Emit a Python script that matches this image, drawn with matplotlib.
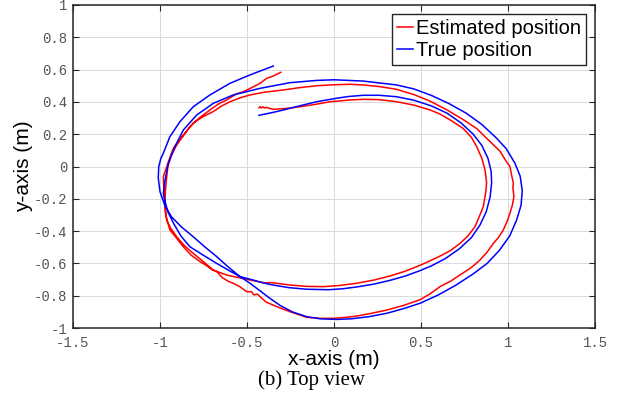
import matplotlib
matplotlib.use("Agg")
import matplotlib.pyplot as plt

# TRAJECTORY DATA (metres)
# ========================================================
true_x = [-0.431, -0.350, -0.291, -0.200, -0.100, 0.000, 0.080, 0.168, 0.260, 0.360,
          0.460, 0.560, 0.650, 0.730, 0.800, 0.850, 0.885, 0.903, 0.906, 0.897,
          0.875, 0.840, 0.790, 0.720, 0.640, 0.560, 0.494, 0.410, 0.322, 0.230,
          0.130, 0.050, -0.030, -0.157, -0.260, -0.349, -0.410, -0.464, -0.540, -0.610,
          -0.674, -0.750, -0.828, -0.880, -0.923, -0.955, -0.975,
          -0.981, -0.971, -0.952, -0.914, -0.866, -0.789, -0.694, -0.579, -0.425, -0.253, -0.100,
          0.000, 0.168, 0.360, 0.460, 0.560, 0.660, 0.760, 0.850, 0.930, 0.990,
          1.040, 1.070, 1.082, 1.075, 1.050, 1.010, 0.950, 0.880, 0.800, 0.700,
          0.600, 0.494, 0.400, 0.303, 0.200, 0.100, 0.015, -0.080, -0.157, -0.240,
          -0.310, -0.370, -0.425, -0.480, -0.540, -0.610, -0.674, -0.740, -0.809, -0.876,
          -0.935, -0.971,
          -1.000, -1.010, -1.007, -0.995, -0.981, -0.943, -0.885, -0.809, -0.713, -0.598,
          -0.483, -0.349]
true_y = [0.317, 0.335, 0.350, 0.375, 0.401, 0.420, 0.433, 0.441, 0.441, 0.432,
          0.410, 0.375, 0.330, 0.270, 0.200, 0.130, 0.050, -0.030, -0.100, -0.190,
          -0.280, -0.360, -0.440, -0.510, -0.570, -0.615, -0.645, -0.678, -0.705, -0.728,
          -0.746, -0.757, -0.763, -0.760, -0.750, -0.734, -0.720, -0.703, -0.682, -0.640,
          -0.600, -0.550, -0.497, -0.430, -0.350, -0.280, -0.200,
          -0.166, -0.084, 0.020, 0.123, 0.226, 0.319, 0.391, 0.443, 0.484, 0.519, 0.533,
          0.537, 0.529, 0.505, 0.480, 0.440, 0.390, 0.330, 0.260, 0.180, 0.110,
          0.020, -0.060, -0.150, -0.240, -0.330, -0.430, -0.520, -0.600, -0.665, -0.735,
          -0.795, -0.847, -0.880, -0.909, -0.930, -0.943, -0.947, -0.943, -0.930, -0.900,
          -0.860, -0.815, -0.770, -0.725, -0.682, -0.620, -0.558, -0.500, -0.435, -0.375,
          -0.310, -0.245,
          -0.156, -0.070, 0.000, 0.050, 0.082, 0.185, 0.278, 0.370, 0.443, 0.515,
          0.567, 0.622]

est_x = [-0.431, -0.425, -0.418, -0.410, -0.400, -0.390, -0.349, -0.270, -0.195, -0.100,
         -0.023, 0.092, 0.168, 0.260, 0.360, 0.460, 0.552, 0.609, 0.680, 0.743,
         0.790, 0.820, 0.850, 0.868, 0.877, 0.872, 0.858, 0.835, 0.810, 0.770,
         0.724, 0.670, 0.609, 0.550, 0.494, 0.410, 0.322, 0.230, 0.130, 0.030,
         -0.061, -0.160, -0.253, -0.358, -0.400, -0.464, -0.540, -0.617, -0.694, -0.750,
         -0.809, -0.860, -0.904, -0.940, -0.962, -0.968, -0.971, -0.978, -0.981, -0.958,
         -0.945, -0.923, -0.900, -0.866, -0.840, -0.809, -0.750, -0.694, -0.650, -0.598,
         -0.540, -0.483, -0.400, -0.291, -0.200, -0.100, 0.000, 0.092,
         0.168, 0.260, 0.360, 0.460, 0.552, 0.650, 0.743, 0.820, 0.877, 0.920,
         0.954, 0.985, 1.011, 1.022, 1.031, 1.028, 1.034, 1.025, 1.011, 0.995,
         0.973, 0.945, 0.916, 0.880, 0.839, 0.790, 0.724, 0.670, 0.609, 0.550,
         0.494, 0.400, 0.303, 0.210, 0.130, 0.060, 0.000, -0.080, -0.157, -0.210,
         -0.253, -0.300, -0.349, -0.390, -0.425, -0.440, -0.460, -0.475, -0.502, -0.540,
         -0.579, -0.600, -0.640, -0.674, -0.700, -0.735, -0.770, -0.820, -0.866, -0.900,
         -0.943, -0.960, -0.970, -0.972, -0.965,
         -0.955, -0.935, -0.904, -0.876, -0.828, -0.775, -0.713, -0.660, -0.617, -0.560,
         -0.521, -0.470, -0.425, -0.387, -0.350, -0.306]
est_y = [0.364, 0.370, 0.362, 0.370, 0.362, 0.366, 0.354, 0.360, 0.370, 0.386,
         0.401, 0.412, 0.416, 0.414, 0.401, 0.380, 0.350, 0.325, 0.280, 0.235,
         0.180, 0.123, 0.050, -0.022, -0.100, -0.160, -0.249, -0.310, -0.373, -0.430,
         -0.476, -0.520, -0.555, -0.585, -0.612, -0.648, -0.678, -0.703, -0.723, -0.737,
         -0.744, -0.742, -0.734, -0.719, -0.720, -0.707, -0.690, -0.672, -0.641, -0.590,
         -0.538, -0.490, -0.435, -0.380, -0.331, -0.270, -0.207, -0.130, -0.063, 0.010,
         0.050, 0.113, 0.150, 0.195, 0.230, 0.270, 0.310, 0.340, 0.372, 0.401,
         0.425, 0.443, 0.460, 0.474, 0.488, 0.500, 0.506, 0.509,
         0.505, 0.495, 0.478, 0.445, 0.405, 0.350, 0.290, 0.235, 0.175, 0.130,
         0.095, 0.040, 0.000, -0.060, -0.104, -0.130, -0.187, -0.240, -0.290, -0.340,
         -0.393, -0.440, -0.476, -0.530, -0.579, -0.625, -0.672, -0.710, -0.744, -0.790,
         -0.825, -0.860, -0.889, -0.910, -0.926, -0.935, -0.940, -0.940, -0.934, -0.915,
         -0.899, -0.880, -0.858, -0.840, -0.806, -0.790, -0.795, -0.775, -0.775, -0.745,
         -0.723, -0.715, -0.690, -0.651, -0.640, -0.612, -0.589, -0.550, -0.497, -0.450,
         -0.393, -0.330, -0.280, -0.200, -0.100,
         0.000, 0.070, 0.133, 0.175, 0.246, 0.300, 0.350, 0.390, 0.412, 0.450,
         0.463, 0.490, 0.515, 0.546, 0.560, 0.583]

x_ticks = [-1.5, -1, -0.5, 0, 0.5, 1, 1.5]
x_tick_labels = ["-1.5", "-1", "-0.5", "0", "0.5", "1", "1.5"]
y_ticks = [-1, -0.8, -0.6, -0.4, -0.2, 0, 0.2, 0.4, 0.6, 0.8, 1]
y_tick_labels = ["-1", "-0.8", "-0.6", "-0.4", "-0.2", "0", "0.2", "0.4", "0.6", "0.8", "1"]

AXIS_COLOR = "#262626"
TICK_FONT = "Liberation Mono"
LABEL_FONT = "Liberation Sans"

fig = plt.figure(figsize=(6.25, 4.04), dpi=100)
ax = fig.add_axes([73 / 625, 1 - 328 / 404, 522 / 625, 323 / 404])

ax.plot(est_x, est_y, color="#ff0000", lw=1.1, label="Estimated position")
ax.plot(true_x, true_y, color="#0000ff", lw=1.1, label="True position")

ax.set_xlim(-1.5, 1.5)
ax.set_ylim(-1, 1)
ax.set_xticks(x_ticks)
ax.set_xticklabels(x_tick_labels)
ax.set_yticks(y_ticks)
ax.set_yticklabels(y_tick_labels)
for lab in ax.get_xticklabels() + ax.get_yticklabels():
    lab.set_fontfamily(TICK_FONT)
    lab.set_fontsize(10)
    lab.set_color("#555555")

ax.grid(True, color="#d9d9d9", lw=0.7)
ax.set_axisbelow(True)
ax.tick_params(direction="in", length=4, width=0.8, color=AXIS_COLOR,
               top=True, right=True)
ax.tick_params(axis="x", pad=6)
ax.tick_params(axis="y", pad=4)
for sp in ax.spines.values():
    sp.set_color(AXIS_COLOR)
    sp.set_linewidth(1.1)

ax.set_xlabel("x-axis (m)", fontfamily=LABEL_FONT, fontsize=15, labelpad=0)
ax.set_ylabel("y-axis (m)", fontfamily=LABEL_FONT, fontsize=15, labelpad=1)

leg = ax.legend(loc="upper right", prop={"family": LABEL_FONT, "size": 14.5},
                handlelength=0.8, handletextpad=0.15, borderpad=0.25,
                labelspacing=0.15, borderaxespad=0.45, fancybox=False,
                framealpha=1, edgecolor=AXIS_COLOR)
leg.get_frame().set_linewidth(1.0)

fig.text(312 / 625, 1 - 380 / 404, "(b) Top view", ha="center", va="center",
         fontfamily="Liberation Serif", fontsize=15)

fig.savefig("out.png", dpi=100)
